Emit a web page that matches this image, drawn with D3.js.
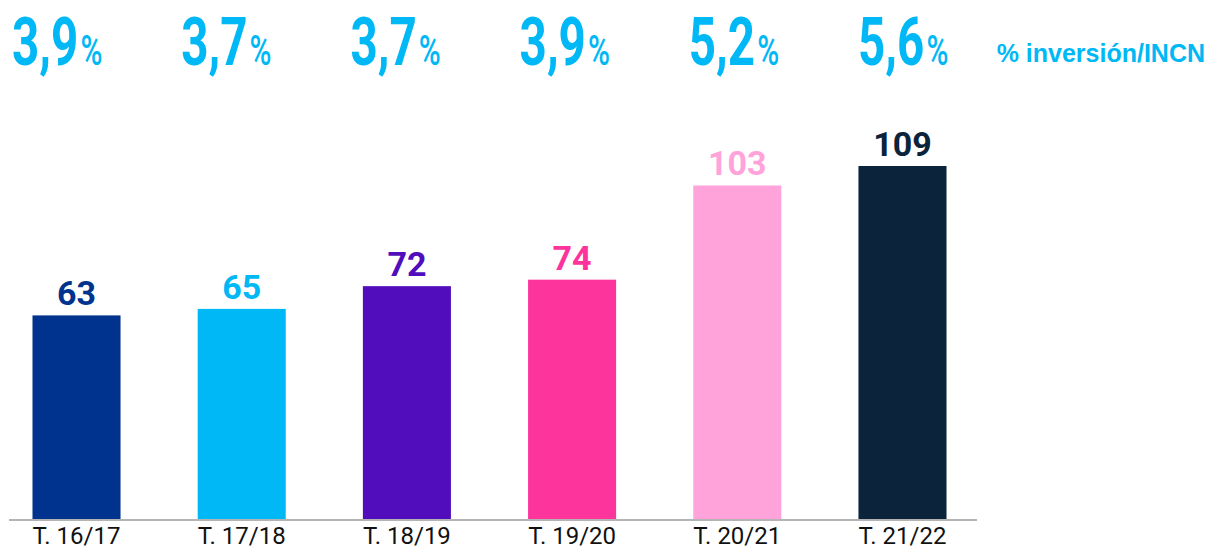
<!DOCTYPE html>
<html>
  <head>
    <meta charset="utf-8">
    <title>Inversión por temporada</title>
    <script src="https://cdn.jsdelivr.net/npm/d3@7"></script>
    <style>
      body { margin: 0; background: #fff; }
      svg { display: block; font-family: Roboto, "Noto Sans", sans-serif; }
    </style>
  </head>
  <body>
    <svg id="chart" width="1207" height="548"></svg>
    <script>
      // data
      seasons = ["T. 16/17", "T. 17/18", "T. 18/19", "T. 19/20", "T. 20/21", "T. 21/22"];
      values = [63, 65, 72, 74, 103, 109];
      ratios = ["3,9", "3,7", "3,7", "3,9", "5,2", "5,6"];
      colours = ["#00338d", "#00b8f5", "#510dbc", "#fd349c", "#ffa3da", "#0c233c"];
      ratioLabel = "% inversión/INCN";

      chart = d3.select("#chart");
      baseline = 520;

      // scales
      x = d3.scaleBand()
        .domain(seasons)
        .range([-6, 985])
        .paddingInner(0.467)
        .paddingOuter(0.233);
      y = d3.scaleLinear()
        .domain([0, 109])
        .range([baseline, 166]);
      colour = d3.scaleOrdinal()
        .domain(seasons)
        .range(colours);
      ratioX = d3.scalePoint()
        .domain(seasons)
        .range([12, 858]);

      // bars
      chart.append("g")
        .selectAll("rect")
        .data(seasons)
        .join("rect")
          .attr("x", function(d) { return x(d); })
          .attr("y", function(d, i) { return y(values[i]); })
          .attr("width", x.bandwidth())
          .attr("height", function(d, i) { return baseline - y(values[i]); })
          .attr("fill", function(d) { return colour(d); });

      // axis line and labels
      axis = d3.axisBottom(x)
        .tickSize(0)
        .tickPadding(7);
      axisGroup = chart.append("g")
        .attr("transform", "translate(0," + baseline + ")")
        .call(axis);
      axisGroup.select(".domain").remove();
      axisGroup.append("line")
        .attr("x1", 9)
        .attr("x2", 977)
        .attr("stroke", "#b4b4b4")
        .attr("stroke-width", 2);
      axisGroup.selectAll(".tick text")
        .attr("font-family", "Roboto, sans-serif")
        .attr("font-size", 24)
        .attr("fill", "#111");

      // value labels
      chart.append("g")
        .selectAll("text")
        .data(seasons)
        .join("text")
          .attr("x", function(d) { return x(d) + x.bandwidth() / 2; })
          .attr("y", function(d, i) { return y(values[i]) - 10; })
          .attr("text-anchor", "middle")
          .attr("font-size", 34)
          .attr("font-weight", 700)
          .attr("fill", function(d) { return colour(d); })
          .text(function(d, i) { return values[i]; });

      // ratio labels on top (condensed look through horizontal scaling)
      ratioGroup = chart.append("g");
      ratioGroup.selectAll("text")
        .data(seasons)
        .join("text")
          .attr("transform", function(d) { return "translate(" + ratioX(d) + ",65) scale(0.71,1)"; })
          .attr("fill", "#00b8f5")
          .attr("font-weight", 700)
          .each(function(d, i) {
            let t = d3.select(this);
            t.append("tspan").attr("font-size", 67).text(ratios[i]);
            t.append("tspan").attr("font-size", 42).attr("font-weight", 500).attr("dx", 3).text("%");
          });

      chart.append("text")
        .attr("x", 1205)
        .attr("y", 62)
        .attr("text-anchor", "end")
        .attr("font-family", "'Liberation Sans', Arial, sans-serif")
        .attr("font-size", 25)
        .attr("font-weight", 700)
        .attr("fill", "#00b8f5")
        .text(ratioLabel);
    </script>
  </body>
</html>
